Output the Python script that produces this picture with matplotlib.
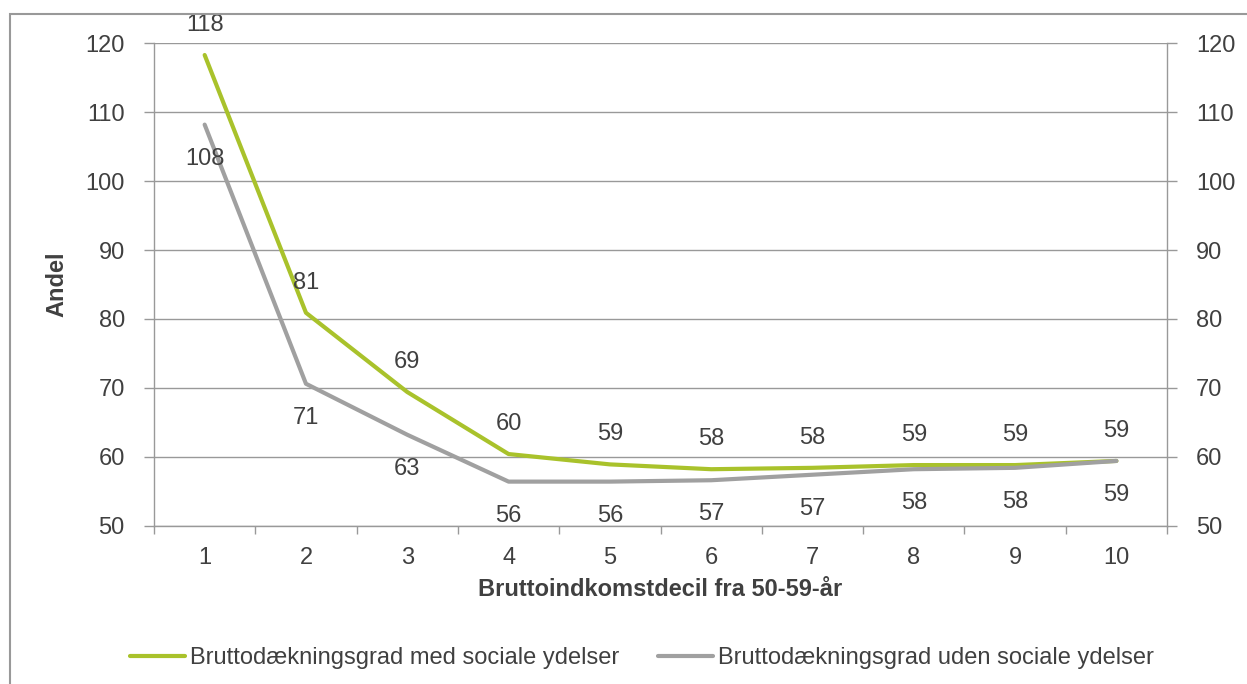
#!/usr/bin/env python3
"""Bruttodækningsgrad per bruttoindkomstdecil, med og uden sociale ydelser."""

import matplotlib
matplotlib.use("Agg")
import matplotlib.pyplot as plt
from matplotlib.patches import Rectangle
from matplotlib.ticker import FixedLocator

plt.rcParams['font.family'] = ['Liberation Sans', 'DejaVu Sans']

# Data
deciles = [1, 2, 3, 4, 5, 6, 7, 8, 9, 10]
med_sociale = [118.3, 80.9, 69.4, 60.4, 58.9, 58.2, 58.4, 58.8, 58.8, 59.4]
uden_sociale = [108.2, 70.6, 63.2, 56.4, 56.4, 56.6, 57.4, 58.2, 58.4, 59.4]
series_names = ["Bruttodækningsgrad med sociale ydelser",
                "Bruttodækningsgrad uden sociale ydelser"]
y_ticks = [50, 60, 70, 80, 90, 100, 110, 120]

GREEN = '#A9C22B'
GREY = '#A0A0A0'
AXIS = '#999999'
TEXT = '#404040'
FS = 17

fig = plt.figure(figsize=(12.47, 6.84), dpi=100)
ax = fig.add_axes([0.1235, 0.2314, 0.8124, 0.7053])

ax.plot(deciles, med_sociale, color=GREEN, lw=3, label=series_names[0],
        solid_joinstyle='round', solid_capstyle='round', zorder=3)
ax.plot(deciles, uden_sociale, color=GREY, lw=3, label=series_names[1],
        solid_joinstyle='round', solid_capstyle='round', zorder=3)

# Data labels: green above the line, grey below
for x, v in zip(deciles, med_sociale):
    ax.annotate(f"{v:.0f}", (x, v), xytext=(0, 30), textcoords='offset pixels',
                ha='center', va='center', fontsize=FS, color=TEXT,
                annotation_clip=False)
for x, v in zip(deciles, uden_sociale):
    ax.annotate(f"{v:.0f}", (x, v), xytext=(0, -34), textcoords='offset pixels',
                ha='center', va='center', fontsize=FS, color=TEXT,
                annotation_clip=False)

ax.set_xlim(0.5, 10.5)
ax.set_ylim(50, 120)
ax.set_yticks(y_ticks)
ax.set_xticks(deciles)
ax.xaxis.set_minor_locator(FixedLocator([d - 0.5 for d in deciles] + [10.5]))
ax.tick_params(axis='x', which='major', length=0, pad=15, labelsize=FS,
               labelcolor=TEXT)
ax.tick_params(axis='x', which='minor', length=6, width=1, color=AXIS,
               direction='out')
ax.tick_params(axis='y', length=7, width=1, color=AXIS, labelsize=FS,
               labelcolor=TEXT, left=True, right=True, labelleft=True,
               labelright=True, pad=14)

ax.grid(axis='y', color=AXIS, lw=1)
ax.set_axisbelow(True)
for side in ['left', 'right', 'bottom']:
    ax.spines[side].set_color(AXIS)
    ax.spines[side].set_linewidth(1)
ax.spines['top'].set_visible(False)

ax.set_ylabel("Andel", fontsize=FS, fontweight='bold', color=TEXT, labelpad=12)
ax.set_xlabel("Bruttoindkomstdecil fra 50-59-år", fontsize=FS,
              fontweight='bold', color=TEXT, labelpad=7)

fig.legend(loc='center', bbox_to_anchor=(0.515, 1 - 658 / 684), ncol=2,
           frameon=False, fontsize=FS, handlelength=2.33, handletextpad=0.2,
           columnspacing=1.65, labelcolor=TEXT)

# Outer chart border
fig.patches.append(Rectangle((10 / 1247, -0.05), 1.1, 0.05 + 1 - 14 / 684,
                             transform=fig.transFigure, fill=False,
                             edgecolor=AXIS, lw=1.5, clip_on=False))

fig.savefig('out.png', dpi=100)
